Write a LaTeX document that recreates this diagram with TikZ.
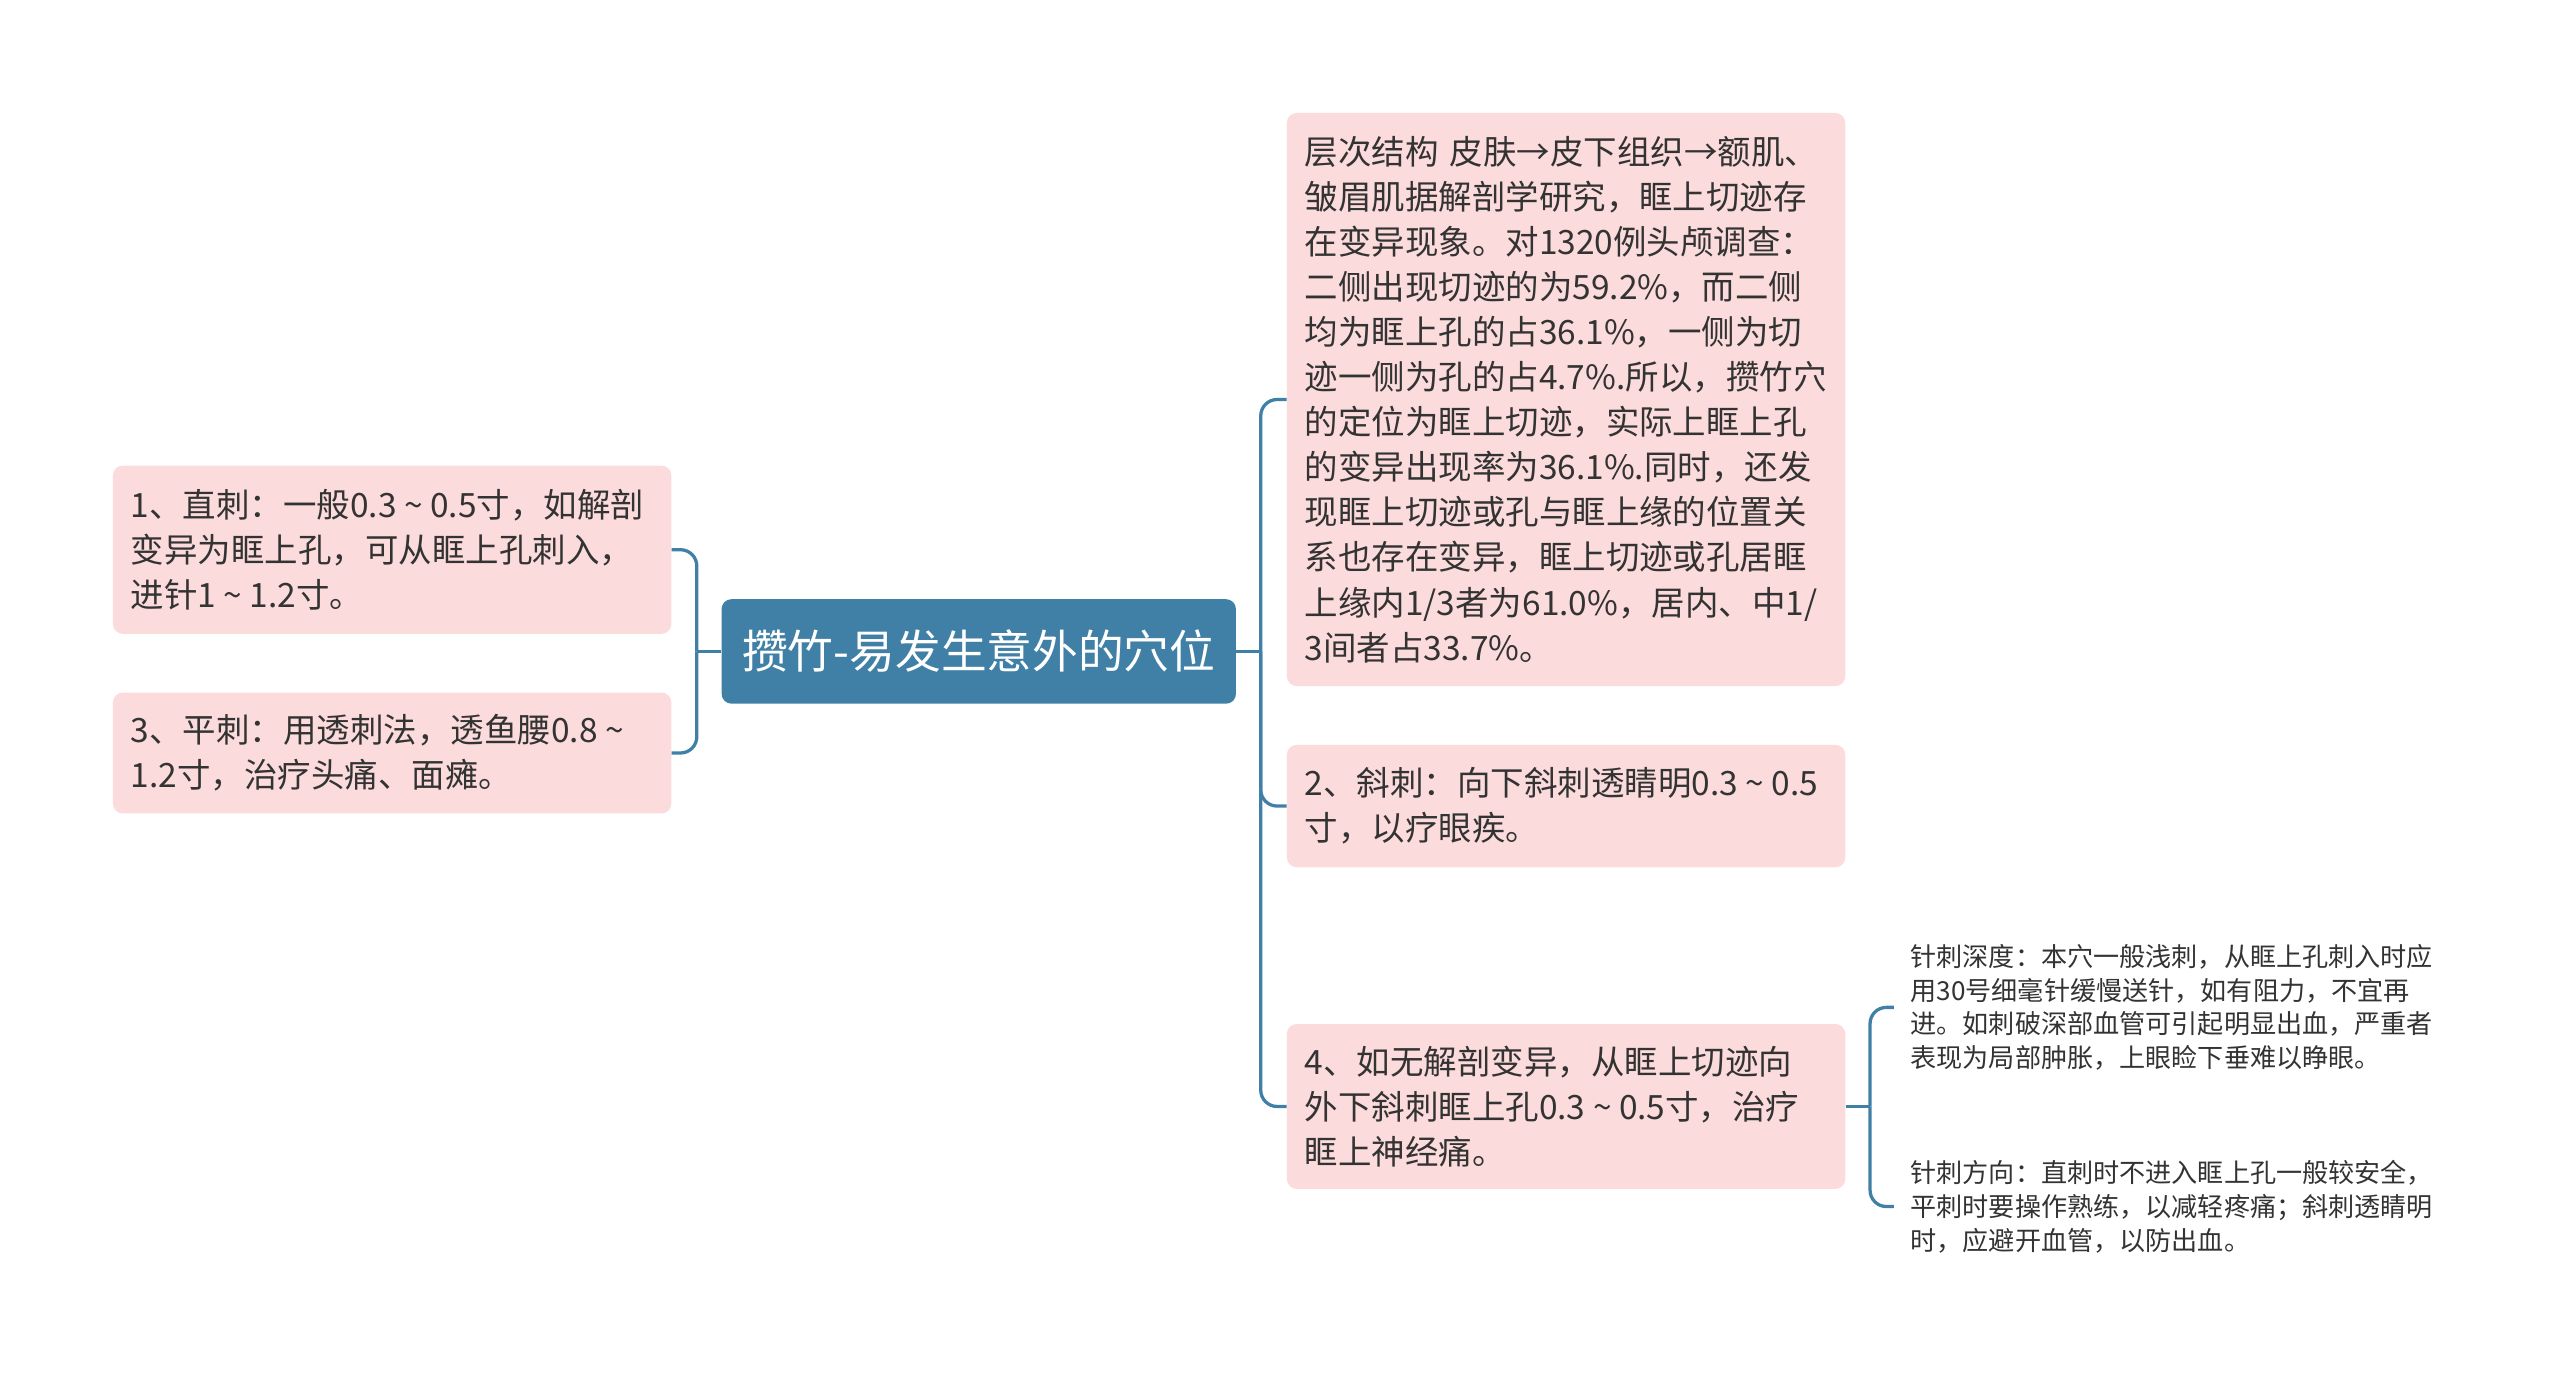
\documentclass[tikz,border=0pt]{standalone}
\usepackage{fontspec}
\setmainfont{Noto Sans CJK SC}
\usepackage{tikz}
\usetikzlibrary{positioning}

\definecolor{leafpink}{RGB}{251,219,219}
\definecolor{rootblue}{RGB}{64,128,166}
\definecolor{textgray}{RGB}{51,51,51}
\newcommand{\tld}{\makebox[1em]{\textasciitilde}}

\begin{document}
\begin{tikzpicture}[
    x=1pt, y=-1pt,
    root/.style={rectangle, rounded corners=6pt, fill=rootblue, text=white, minimum width=315pt, minimum height=64pt, inner sep=0pt, font=\fontsize{28}{34}\selectfont},
    leaf/.style={rectangle, rounded corners=6pt, fill=leafpink, text=textgray, text width=320pt, align=left, inner xsep=11pt, inner ysep=0pt, anchor=north west, font=\fontsize{20.5}{27.6}\selectfont},
    note/.style={rectangle, text=textgray, align=left, inner xsep=10pt, inner ysep=0pt, anchor=west, font=\fontsize{16}{20.7}\selectfont},
    link/.style={draw=rootblue, line width=2pt, rounded corners=10pt}
]
\useasboundingbox (0,0) rectangle (1568,847);

% root
\node[root] (root) at (599.5,399) {攒竹-易发生意外的穴位};

% left side
\node[leaf, minimum height=103pt] (straight) at (69,285) {1、直刺：一般0.3\tld0.5寸，如解剖\\变异为眶上孔，可从眶上孔刺入，\\进针1\tld1.2寸。};
\node[leaf, minimum height=74pt] (flat) at (69,424) {3、平刺：用透刺法，透鱼腰0.8\tld\\1.2寸，治疗头痛、面瘫。};

% right side
\node[leaf, minimum height=351pt] (layers) at (788,69) {层次结构 皮肤→皮下组织→额肌、\\皱眉肌据解剖学研究，眶上切迹存\\在变异现象。对1320例头颅调查：\\二侧出现切迹的为59.2\%，而二侧\\均为眶上孔的占36.1\%，一侧为切\\迹一侧为孔的占4.7\%.所以，攒竹穴\\的定位为眶上切迹，实际上眶上孔\\的变异出现率为36.1\%.同时，还发\\现眶上切迹或孔与眶上缘的位置关\\系也存在变异，眶上切迹或孔居眶\\上缘内1/3者为61.0\%，居内、中1/\\3间者占33.7\%。};
\node[leaf, minimum height=75pt] (oblique) at (788,456) {2、斜刺：向下斜刺透睛明0.3\tld0.5\\寸，以疗眼疾。};
\node[leaf, minimum height=101pt] (nerve) at (788,627) {4、如无解剖变异，从眶上切迹向\\外下斜刺眶上孔0.3\tld0.5寸，治疗\\眶上神经痛。};

% notes of item 4
\node[note] (depth) at (1160,617) {针刺深度：本穴一般浅刺，从眶上孔刺入时应\\用30号细毫针缓慢送针，如有阻力，不宜再\\进。如刺破深部血管可引起明显出血，严重者\\表现为局部肿胀，上眼睑下垂难以睁眼。};
\node[note] (direction) at (1160,739) {针刺方向：直刺时不进入眶上孔一般较安全，\\平刺时要操作熟练，以减轻疼痛；斜刺透睛明\\时，应避开血管，以防出血。};

% connectors
\coordinate[left=15pt of root] (ljoint);
\coordinate[right=15pt of root] (rjoint);
\coordinate[right=15pt of nerve] (njoint);

\draw[link] (root.west) -- (ljoint);
\draw[link] (ljoint) |- (straight.east);
\draw[link] (ljoint) |- (flat.east);

\draw[link] (root.east) -- (rjoint);
\draw[link] (rjoint) |- (layers.west);
\draw[link] (rjoint) |- (oblique.west);
\draw[link] (rjoint) |- (nerve.west);

\draw[link] (nerve.east) -- (njoint);
\draw[link] (njoint) |- (depth.west);
\draw[link] (njoint) |- (direction.west);

\end{tikzpicture}
\end{document}
